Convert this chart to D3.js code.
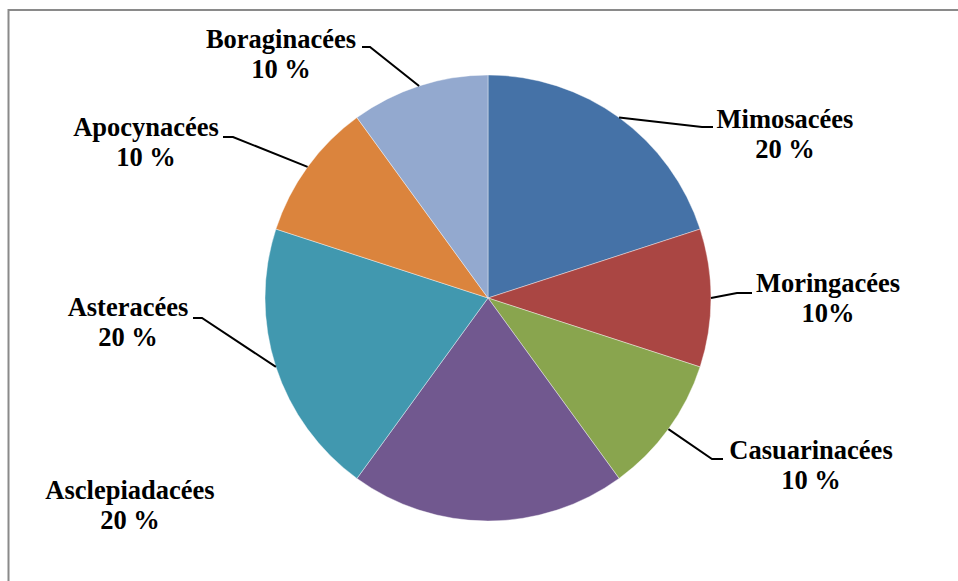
<!DOCTYPE html>
<html>
<head>
<meta charset="utf-8">
<script src="https://cdn.jsdelivr.net/npm/d3@7"></script>
<style>
  html, body { margin: 0; padding: 0; background: #fff; }
  svg { display: block; }
</style>
</head>
<body>
<svg id="chart" width="958" height="581"></svg>
<script>
// ---- data ----
const categories = ["Mimosacées", "Moringacées", "Casuarinacées", "Asclepiadacées", "Asteracées", "Apocynacées", "Boraginacées"];
const values = [20, 10, 10, 20, 20, 10, 10];
const valueLabels = ["20 %", "10%", "10 %", "20 %", "20 %", "10 %", "10 %"];
const colors = ["#4572A7", "#AA4643", "#89A54E", "#71588F", "#4198AF", "#DB843D", "#93A9CF"];

// ---- layout (label placement, not data) ----
const cx = 488, cy = 298, R = 223;
const labelLayout = [
  { x: 785, y: 128, elbow: [702, 127], end: [713, 127] },
  { x: 828, y: 292, elbow: [737, 293], end: [752, 293] },
  { x: 811, y: 459, elbow: [712, 459], end: [723, 459] },
  { x: 130, y: 499, elbow: null, end: null },
  { x: 128, y: 316, elbow: [202, 318], end: [193, 318] },
  { x: 146, y: 136, elbow: [233, 137], end: [223, 137] },
  { x: 281, y: 48,  elbow: [370, 47],  end: [362, 47] }
];
const FONT = "'Liberation Serif', 'Times New Roman', Times, 'DejaVu Serif', serif";

const svg = d3.select("#chart");

svg.append("path")
  .attr("d", "M8.5,581 L8.5,10 L958,10")
  .attr("fill", "none")
  .attr("stroke", "#8a8a8a")
  .attr("stroke-width", 2);

const color = d3.scaleOrdinal().domain(categories).range(colors);

const pie = d3.pie().sort(null).value(d => d.value).startAngle(0).endAngle(2 * Math.PI);
const data = categories.map((c, i) => ({ name: c, value: values[i], label: valueLabels[i], layout: labelLayout[i] }));
const arcs = pie(data);

const arc = d3.arc().innerRadius(0).outerRadius(R);

const g = svg.append("g").attr("transform", `translate(${cx},${cy})`);

g.selectAll("path.slice")
  .data(arcs)
  .join("path")
  .attr("class", "slice")
  .attr("d", arc)
  .attr("fill", d => color(d.data.name))
  .attr("stroke", "rgba(255,255,255,0.5)")
  .attr("stroke-width", 0.8);

svg.selectAll("polyline.leader")
  .data(arcs.filter(d => d.data.layout.elbow))
  .join("polyline")
  .attr("class", "leader")
  .attr("fill", "none")
  .attr("stroke", "#000")
  .attr("stroke-width", 2)
  .attr("points", d => {
    const a = (d.startAngle + d.endAngle) / 2;
    const sx = cx + R * Math.sin(a), sy = cy - R * Math.cos(a);
    const L = d.data.layout;
    return [[sx, sy], L.elbow, L.end].map(p => p.join(",")).join(" ");
  });

const labels = svg.selectAll("text.lbl")
  .data(arcs)
  .join("text")
  .attr("class", "lbl")
  .attr("text-anchor", "middle")
  .attr("font-family", FONT)
  .attr("font-weight", "bold")
  .attr("font-size", 26.5)
  .attr("fill", "#000");

labels.append("tspan")
  .attr("x", d => d.data.layout.x)
  .attr("y", d => d.data.layout.y)
  .text(d => d.data.name);

labels.append("tspan")
  .attr("x", d => d.data.layout.x)
  .attr("y", d => d.data.layout.y + 30)
  .text(d => d.data.label);
</script>
</body>
</html>
